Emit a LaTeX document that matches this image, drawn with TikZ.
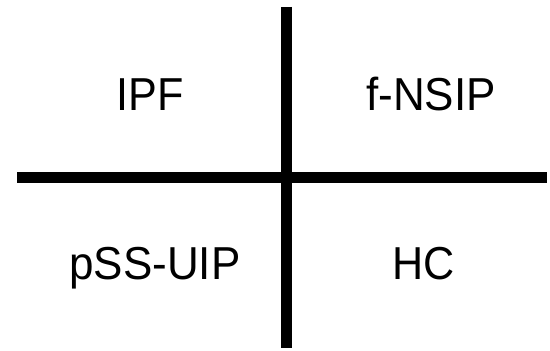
\documentclass[tikz,border=0pt]{standalone}
\usepackage{fontspec}
\setmainfont{Liberation Sans}
\begin{document}
\begin{tikzpicture}[x=1pt,y=1pt,
  bar/.style={line width=11pt,black},
  lbl/.style={font=\fontsize{44}{50}\selectfont,anchor=base,inner sep=0pt}]
\useasboundingbox (0,0) rectangle (550,351);
\coordinate (vt) at (286.5,344);
\coordinate (vb) at (286.5,3);
\coordinate (hl) at (17,173.5);
\coordinate (hr) at (547,173.5);
\draw[bar] (vt) -- (vb);
\draw[bar] (hl) -- (hr);
\node[lbl] (ipf) at (150,240) {\scalebox{0.98}[1.05]{IPF}};
\node[lbl] (fnsip) at (431,240) {\scalebox{1}[1.05]{f-NSIP}};
\node[lbl] (pss) at (155,71) {\scalebox{1}[1.05]{pSS-UIP}};
\node[lbl] (hc) at (424,71) {\scalebox{0.98}[1.05]{HC}};
\end{tikzpicture}
\end{document}
